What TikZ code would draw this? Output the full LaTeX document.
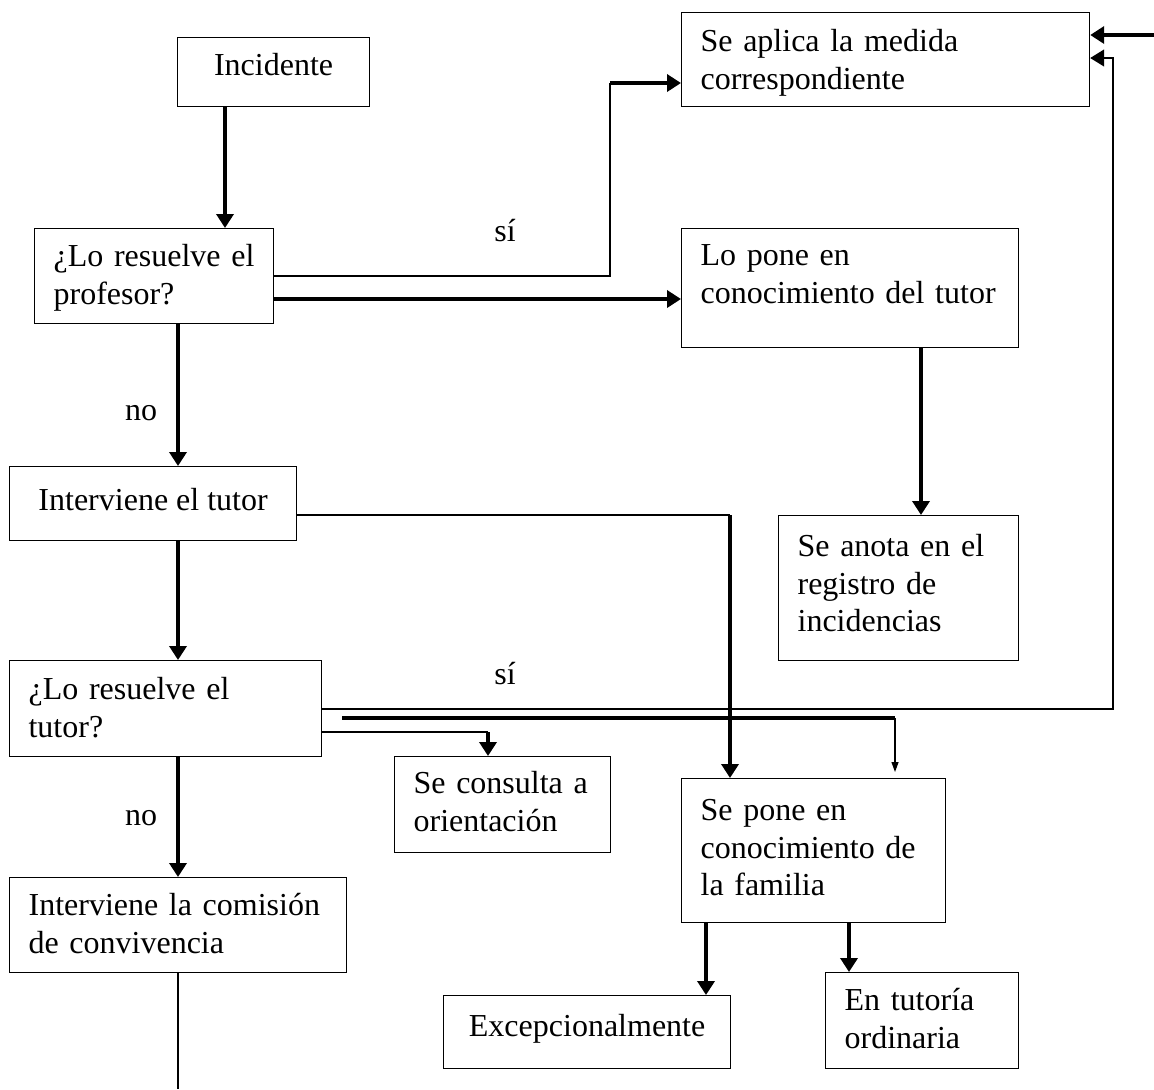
\documentclass[tikz,border=0pt]{standalone}
\usepackage{fontspec}
\setmainfont{Liberation Serif}
\usetikzlibrary{arrows.meta, positioning, calc}

\begin{document}
\begin{tikzpicture}[x=0.5pt, y=-0.5pt,
    font=\fontsize{16}{18.8}\selectfont,
    box/.style={draw, line width=0.6pt, anchor=north west, inner xsep=9.5pt, inner ysep=0pt, text height=19pt},
    fin/.style={line width=0.6pt},
    gruesa/.style={line width=2pt},
    flecha/.style={-{Triangle[length=7pt,width=8.5pt]}},
    flechita/.style={-{Triangle[length=5pt,width=3.5pt]}}]
\useasboundingbox (0,0) rectangle (1154,1089);

% Cajas
\node[box, align=center, minimum width=96pt, text depth=15.5pt] (incidente) at (177,37) {Incidente};
\node[box, align=left, text width=185pt, text height=19.5pt, text depth=27.5pt] (aplica) at (681,12) {Se aplica la medida\\correspondiente};
\node[box, align=left, text width=100.5pt, text depth=28.5pt] (profesor) at (34,228) {¿Lo resuelve el\\profesor?};
\node[box, align=left, text width=149.5pt, text height=18.5pt, text depth=41pt] (pone) at (681,228) {Lo pone en\\conocimiento del tutor};
\node[box, align=center, minimum width=143.5pt, text height=22pt, text depth=15pt] (tutor) at (9,466) {Interviene el tutor};
\node[box, align=left, text width=101pt, text height=20.5pt, text depth=52pt] (anota) at (778,515) {Se anota en el\\registro de\\incidencias};
\node[box, align=left, text width=137pt, text height=19.5pt, text depth=28.5pt] (restutor) at (9,660) {¿Lo resuelve el\\tutor?};
\node[box, align=left, text width=89pt, text height=18.5pt, text depth=29.5pt] (consulta) at (394,756) {Se consulta a\\orientación};
\node[box, align=left, text width=113pt, text height=21pt, text depth=51pt] (familia) at (681,778) {Se pone en\\conocimiento de\\la familia};
\node[box, align=left, text width=149.5pt, text depth=28.5pt] (comision) at (9,877) {Interviene la comisión\\de convivencia};
\node[box, align=center, minimum width=143.5pt, text height=20.5pt, text depth=16pt] (excep) at (443,995) {Excepcionalmente};
\node[box, align=left, text width=77.5pt, text depth=29pt] (ordinaria) at (825,972) {En tutoría\\ordinaria};

% Puntos de paso
\coordinate (xa) at (225,0);
\coordinate (xc) at (178,0);
\coordinate (s1) at (610,276);
\coordinate (s2) at (610,83);
\coordinate (s3) at (0,299);
\coordinate (xd) at (921,0);
\coordinate (t1) at (730,515);
\coordinate (r1) at (1113,709);
\coordinate (r2) at (1113,58);
\coordinate (borde) at (1154,35);
\coordinate (f1) at (342,718);
\coordinate (f2) at (895,718);
\coordinate (o1) at (488,732);
\coordinate (xe) at (706,0);
\coordinate (xf) at (849,0);
\coordinate (fin) at (178,1089);

% Profesor
\draw[gruesa, flecha] (incidente.south -| xa) -- (profesor.north -| xa);
\draw[fin] (profesor.east |- s1) -- (s1) -- (s2);
\draw[gruesa, flecha] (s2) -- (s2 -| aplica.west);
\draw[gruesa, flecha] (profesor.east |- s3) -- (pone.west |- s3);
\node (si1) at (505,231) {sí};
\draw[gruesa, flecha] (profesor.south -| xc) -- (tutor.north -| xc);
\node (no1) at (141,413) {no};
\draw[gruesa, flecha] (pone.south -| xd) -- (anota.north -| xd);

% Tutor
\draw[fin] (tutor.east |- t1) -- (t1);
\draw[gruesa, flecha] (t1) -- (familia.north -| t1);
\draw[gruesa, flecha] (tutor.south -| xc) -- (restutor.north -| xc);
\node (si2) at (505,674) {sí};
\draw[fin, flecha] (restutor.east |- r1) -- (r1) -- (r2) -- (aplica.east |- r2);
\draw[gruesa, flecha] (borde) -- (aplica.east |- borde);
\draw[gruesa] (f1) -- (f2);
\draw[fin, flechita, shorten >=3pt] (f2) -- (familia.north -| f2);
\draw[fin] (restutor.east |- o1) -- (o1);
\draw[gruesa, flecha] (o1) -- (consulta.north -| o1);
\draw[gruesa, flecha] (restutor.south -| xc) -- (comision.north -| xc);
\node (no2) at (141,818) {no};
\draw[fin] (comision.south -| xc) -- (fin);

% Familia
\draw[gruesa, flecha] (familia.south -| xe) -- (excep.north -| xe);
\draw[gruesa, flecha] (familia.south -| xf) -- (ordinaria.north -| xf);
\end{tikzpicture}
\end{document}
